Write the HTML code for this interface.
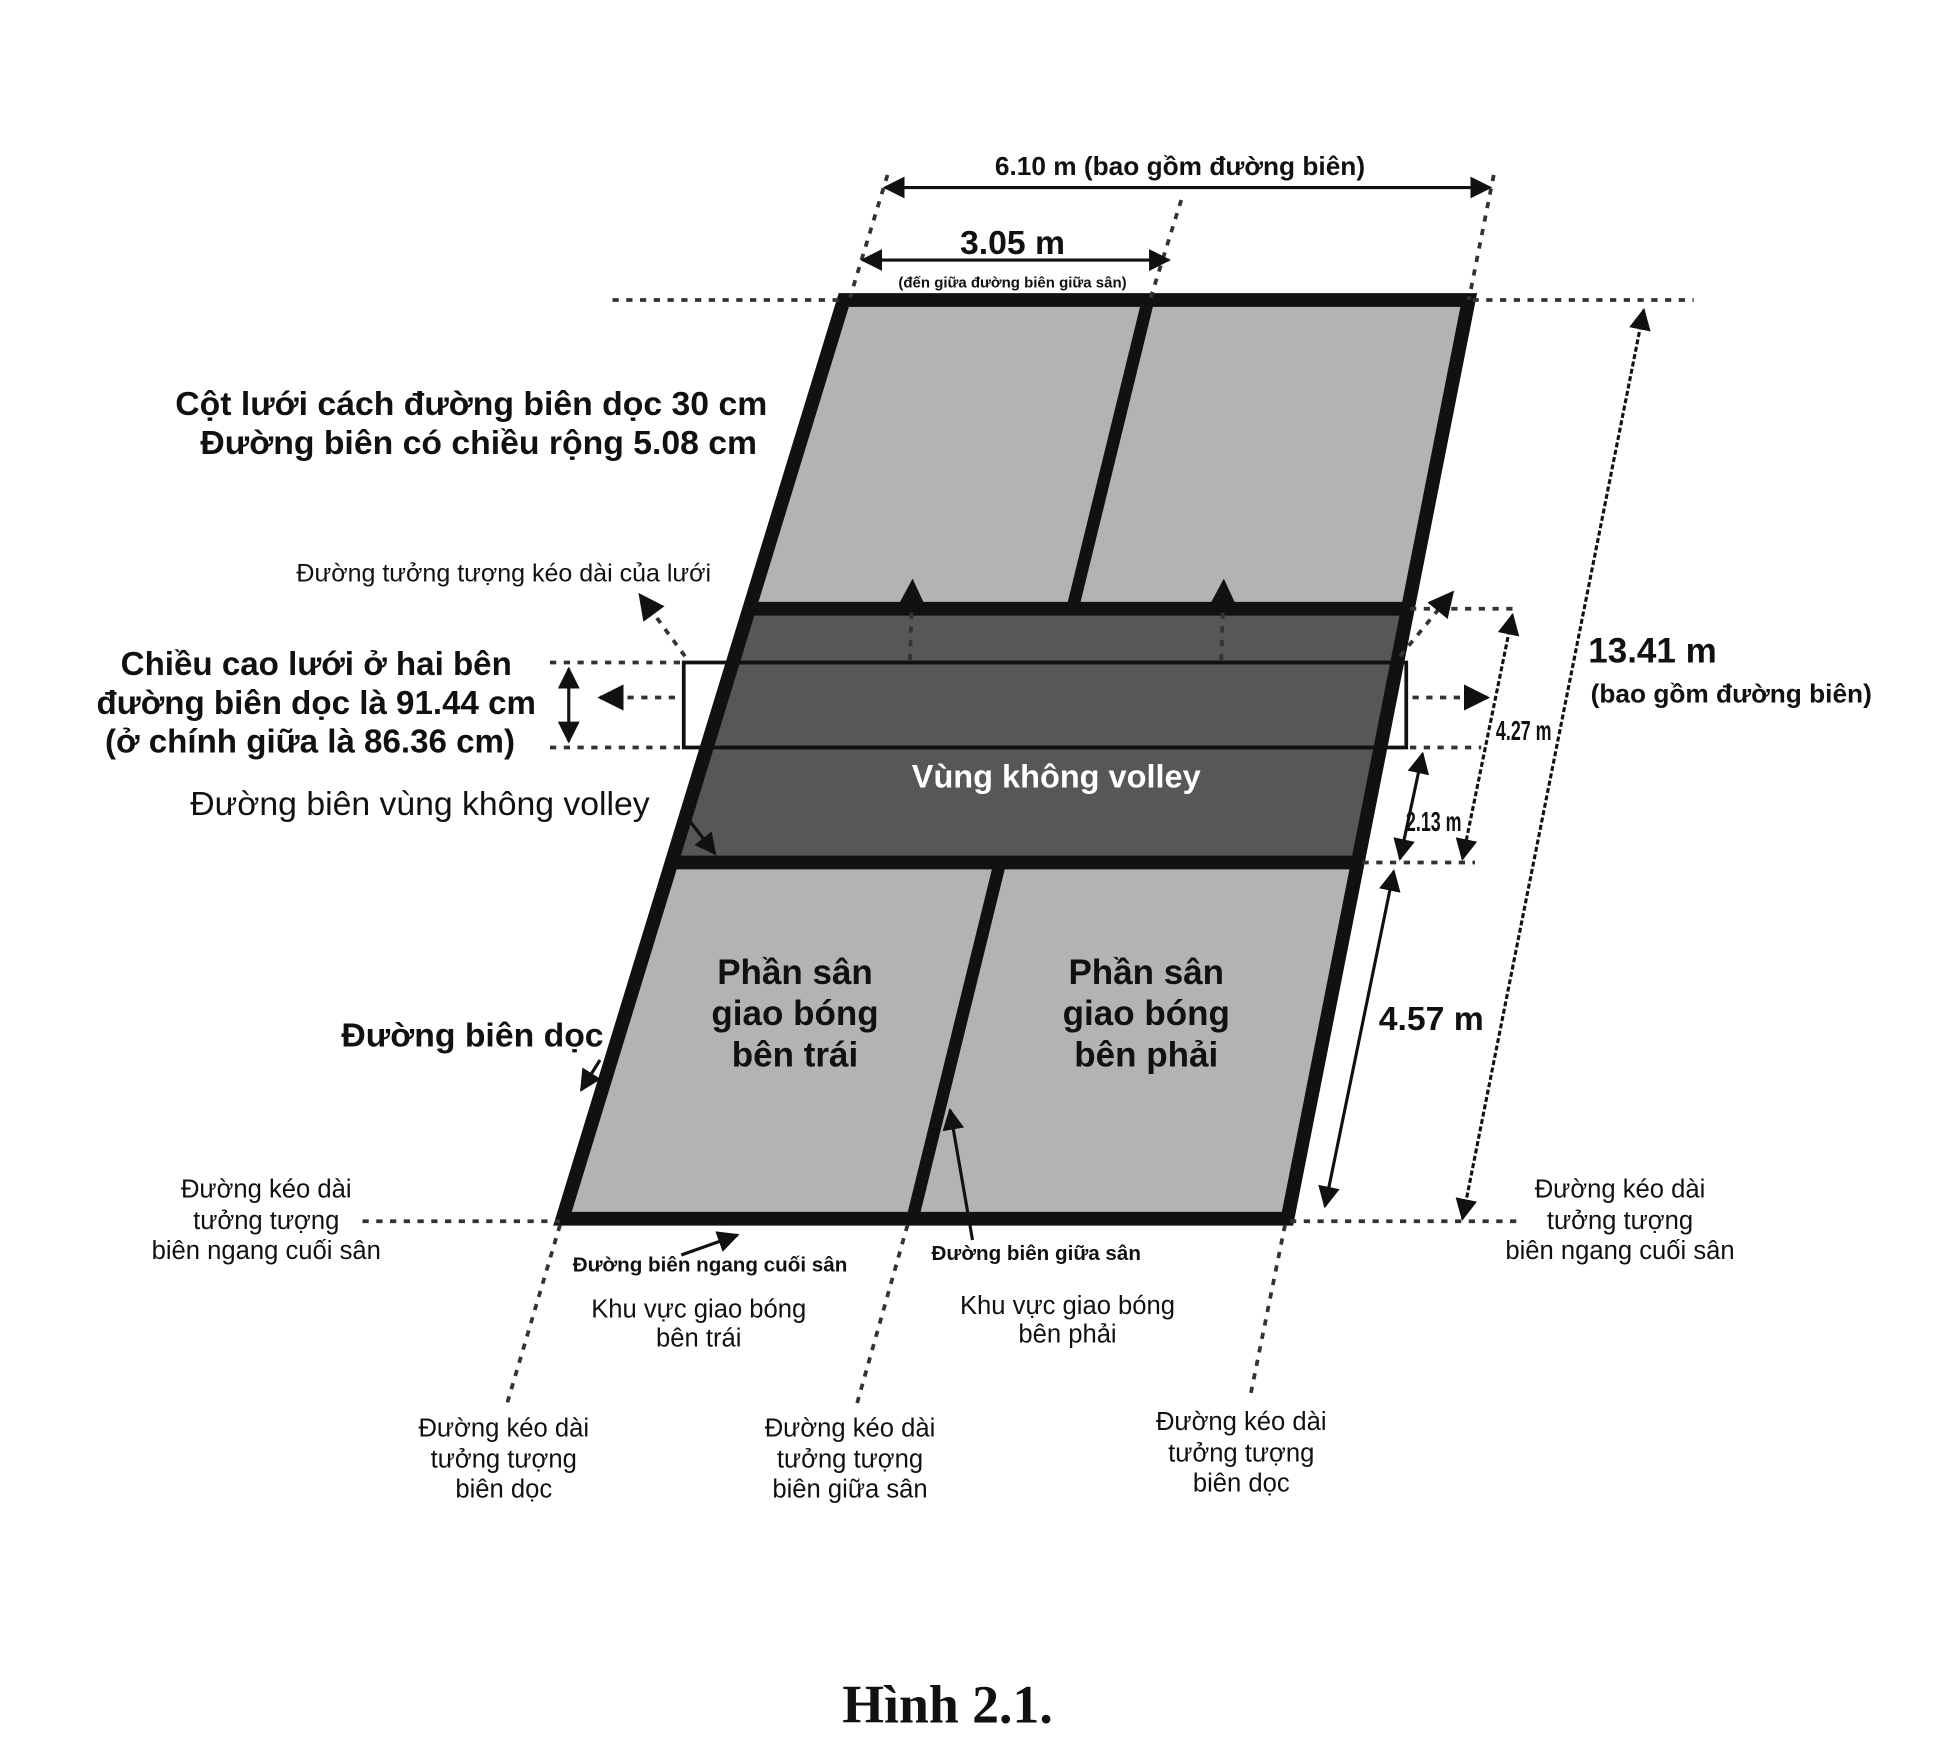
<!DOCTYPE html>
<html><head><meta charset="utf-8"><style>
html,body{margin:0;padding:0;background:#fff;}
svg{display:block}
text{font-family:"Liberation Sans",sans-serif;fill:#111}
.b{font-weight:bold}
</style></head><body>
<svg width="1957" height="1754" viewBox="0 0 1565.6 1403.2" xmlns="http://www.w3.org/2000/svg">
<defs>
<marker id="a" viewBox="0 0 10 10" refX="9" refY="5" markerWidth="7" markerHeight="7" orient="auto-start-reverse"><path d="M0,0 L10,5 L0,10 z" fill="#111"/></marker>
</defs>
<polygon points="675,240 1175,240 1126,487 599,487" fill="#b3b3b3"/>
<polygon points="599,487 1126,487 1086,690 537,690" fill="#575757"/>
<polygon points="537,690 1086,690 1030,975 450,975" fill="#b3b3b3"/>
<line x1="590" y1="530" x2="1118" y2="530" stroke="#222" stroke-width="3"/>
<line x1="577" y1="598" x2="1106" y2="598" stroke="#222" stroke-width="3"/>
<rect x="547" y="530" width="578" height="68" fill="none" stroke="#111" stroke-width="3"/>
<polygon points="675,240 1175,240 1030,975 450,975" fill="none" stroke="#111" stroke-width="11" stroke-linejoin="miter"/>
<line x1="599" y1="487" x2="1126" y2="487" stroke="#111" stroke-width="11"/>
<line x1="537" y1="690" x2="1086" y2="690" stroke="#111" stroke-width="11"/>
<line x1="918" y1="242" x2="858" y2="487" stroke="#111" stroke-width="10"/>
<line x1="800" y1="690" x2="730" y2="975" stroke="#111" stroke-width="10"/>
<g stroke="#333" stroke-width="3" stroke-dasharray="5,6" fill="none">
<line x1="490" y1="240" x2="672" y2="240"/>
<line x1="1178" y1="240" x2="1355" y2="240"/>
<line x1="710" y1="140" x2="680" y2="238"/>
<line x1="1195" y1="140" x2="1175" y2="240"/>
<line x1="945" y1="160" x2="920" y2="240"/>
<line x1="290" y1="977" x2="448" y2="977"/>
<line x1="1032" y1="977" x2="1215" y2="977"/>
<line x1="448" y1="980" x2="405" y2="1125"/>
<line x1="726" y1="980" x2="685" y2="1125"/>
<line x1="1028" y1="980" x2="1000" y2="1118"/>
<line x1="440" y1="530" x2="545" y2="530"/>
<line x1="440" y1="598" x2="545" y2="598"/>
<line x1="1128" y1="487" x2="1215" y2="487"/>
<line x1="1128" y1="598" x2="1185" y2="598"/>
<line x1="1090" y1="690" x2="1180" y2="690"/>
<line x1="480" y1="558" x2="540" y2="558" marker-start="url(#a)"/>
<line x1="1130" y1="558" x2="1190" y2="558" marker-end="url(#a)"/>
<line x1="728" y1="528" x2="730" y2="465" marker-end="url(#a)"/>
<line x1="977" y1="528" x2="979" y2="465" marker-end="url(#a)"/>
<line x1="548" y1="525" x2="512" y2="476" marker-end="url(#a)"/>
<line x1="1120" y1="525" x2="1162" y2="474" marker-end="url(#a)"/>
</g>
<g stroke="#111" stroke-width="2.5" fill="none">
<line x1="708" y1="150" x2="1192" y2="150" marker-start="url(#a)" marker-end="url(#a)"/>
<line x1="690" y1="208" x2="935" y2="208" marker-start="url(#a)" marker-end="url(#a)"/>
<line x1="1315" y1="248" x2="1170" y2="975" marker-start="url(#a)" marker-end="url(#a)" stroke-dasharray="4,2"/>
<line x1="1115" y1="697" x2="1060" y2="965" marker-start="url(#a)" marker-end="url(#a)"/>
<line x1="1210" y1="492" x2="1170" y2="687" marker-start="url(#a)" marker-end="url(#a)" stroke-dasharray="4,2"/>
<line x1="1138" y1="603" x2="1120" y2="687" marker-start="url(#a)" marker-end="url(#a)"/>
<line x1="455" y1="535" x2="455" y2="593" marker-start="url(#a)" marker-end="url(#a)"/>
<line x1="480" y1="848" x2="465" y2="872" marker-end="url(#a)"/>
<line x1="545" y1="648" x2="572" y2="683" marker-end="url(#a)"/>
<line x1="545" y1="1004" x2="590" y2="988" marker-end="url(#a)"/>
<line x1="778" y1="992" x2="760" y2="888" marker-end="url(#a)"/>
</g>
<text x="944" y="140" font-size="21" class="b" text-anchor="middle">6.10 m (bao gồm đường biên)</text>
<text x="810" y="203" font-size="27" class="b" text-anchor="middle">3.05 m</text>
<text x="810" y="230" font-size="12" class="b" text-anchor="middle">(đến giữa đường biên giữa sân)</text>
<text x="377" y="332" font-size="27" class="b" text-anchor="middle">Cột lưới cách đường biên dọc 30 cm</text>
<text x="383" y="363" font-size="27" class="b" text-anchor="middle">Đường biên có chiều rộng 5.08 cm</text>
<text x="403" y="465" font-size="20" text-anchor="middle">Đường tưởng tượng kéo dài của lưới</text>
<text x="253" y="540" font-size="26.5" class="b" text-anchor="middle">Chiều cao lưới ở hai bên</text>
<text x="253" y="571" font-size="26.5" class="b" text-anchor="middle">đường biên dọc là 91.44 cm</text>
<text x="248" y="602" font-size="26.5" class="b" text-anchor="middle">(ở chính giữa là 86.36 cm)</text>
<text x="336" y="652" font-size="27" text-anchor="middle">Đường biên vùng không volley</text>
<text x="845" y="630" font-size="26" class="b" text-anchor="middle" style="fill:#fff">Vùng không volley</text>
<text x="1322" y="530" font-size="28" class="b" text-anchor="middle">13.41 m</text>
<text x="1385" y="562" font-size="21" class="b" text-anchor="middle">(bao gồm đường biên)</text>
<text x="1219" y="592" font-size="22" class="b" text-anchor="middle" transform="translate(1219,592) scale(0.65,1) translate(-1219,-592)">4.27 m</text>
<text x="1147" y="665" font-size="22" class="b" text-anchor="middle" transform="translate(1147,665) scale(0.65,1) translate(-1147,-665)">2.13 m</text>
<text x="1145" y="824" font-size="27" class="b" text-anchor="middle">4.57 m</text>
<text x="636" y="787" font-size="28" class="b" text-anchor="middle">Phần sân</text>
<text x="636" y="820" font-size="28" class="b" text-anchor="middle">giao bóng</text>
<text x="636" y="853" font-size="28" class="b" text-anchor="middle">bên trái</text>
<text x="917" y="787" font-size="28" class="b" text-anchor="middle">Phần sân</text>
<text x="917" y="820" font-size="28" class="b" text-anchor="middle">giao bóng</text>
<text x="917" y="853" font-size="28" class="b" text-anchor="middle">bên phải</text>
<text x="378" y="837" font-size="27" class="b" text-anchor="middle">Đường biên dọc</text>
<g font-size="20.5" text-anchor="middle">
<text x="213" y="958">Đường kéo dài</text>
<text x="213" y="983">tưởng tượng</text>
<text x="213" y="1007">biên ngang cuối sân</text>
<text x="1296" y="958">Đường kéo dài</text>
<text x="1296" y="983">tưởng tượng</text>
<text x="1296" y="1007">biên ngang cuối sân</text>
<text x="559" y="1054">Khu vực giao bóng</text>
<text x="559" y="1077">bên trái</text>
<text x="854" y="1051">Khu vực giao bóng</text>
<text x="854" y="1074">bên phải</text>
<text x="403" y="1149">Đường kéo dài</text>
<text x="403" y="1174">tưởng tượng</text>
<text x="403" y="1198">biên dọc</text>
<text x="680" y="1149">Đường kéo dài</text>
<text x="680" y="1174">tưởng tượng</text>
<text x="680" y="1198">biên giữa sân</text>
<text x="993" y="1144">Đường kéo dài</text>
<text x="993" y="1169">tưởng tượng</text>
<text x="993" y="1193">biên dọc</text>
</g>
<text x="568" y="1017" font-size="16.5" class="b" text-anchor="middle">Đường biên ngang cuối sân</text>
<text x="829" y="1008" font-size="16.5" class="b" text-anchor="middle">Đường biên giữa sân</text>
<text x="758" y="1378" font-size="43" class="b" text-anchor="middle" style="font-family:'Liberation Serif',serif">Hình 2.1.</text>
</svg>
</body></html>
